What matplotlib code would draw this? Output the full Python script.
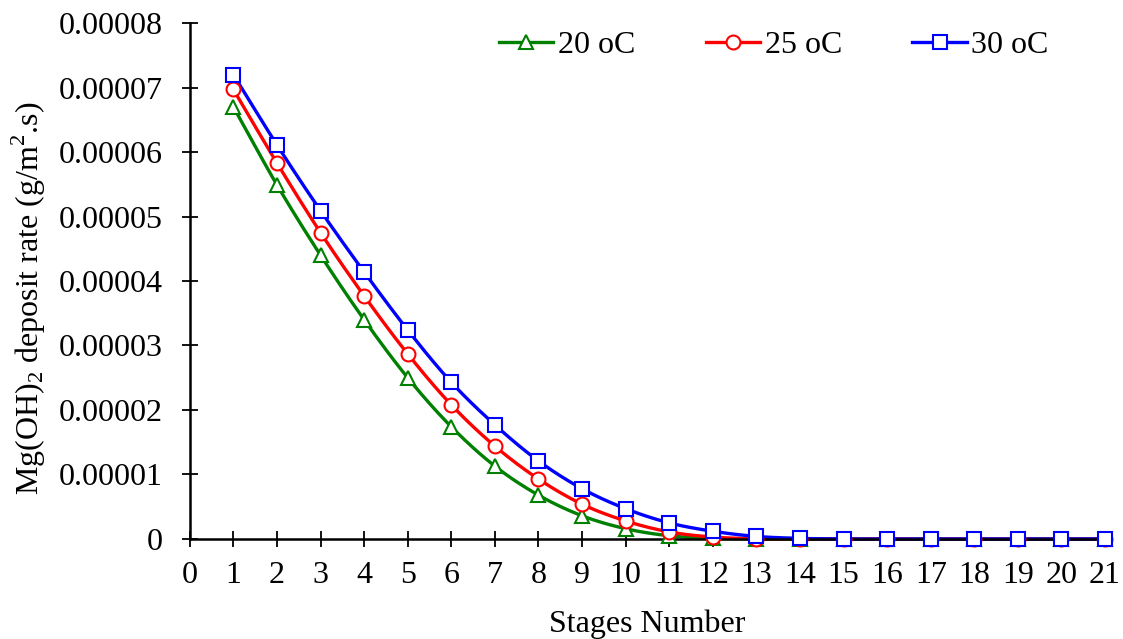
import numpy as np
import matplotlib
matplotlib.use("Agg")
import matplotlib.pyplot as plt

# data
stages = np.arange(1, 22)
rate_20 = [6.70, 5.49, 4.40, 3.40, 2.50, 1.74, 1.13, 0.68, 0.36, 0.16, 0.05, 0.01,
           0, 0, 0, 0, 0, 0, 0, 0, 0]
rate_25 = [6.97, 5.83, 4.75, 3.77, 2.87, 2.08, 1.44, 0.93, 0.54, 0.28, 0.11, 0.03,
           0.005, 0, 0, 0, 0, 0, 0, 0, 0]
rate_30 = [7.20, 6.11, 5.09, 4.14, 3.24, 2.43, 1.77, 1.21, 0.78, 0.47, 0.25, 0.12,
           0.04, 0.01, 0, 0, 0, 0, 0, 0, 0]
labels = ["20 oC", "25 oC", "30 oC"]
colors = ["green", "red", "blue"]
markers = ["^", "o", "s"]

plt.rcParams['font.family'] = ['Liberation Serif', 'DejaVu Serif']
plt.rcParams['mathtext.fontset'] = 'custom'
plt.rcParams['mathtext.rm'] = 'Liberation Serif'
fs = 23


def smooth(x, y, n=20):
    # Catmull-Rom through the points, like Excel's smoothed line
    x = np.asarray(x, float)
    y = np.asarray(y, float)
    px = np.concatenate([[2 * x[0] - x[1]], x, [2 * x[-1] - x[-2]]])
    py = np.concatenate([[2 * y[0] - y[1]], y, [2 * y[-1] - y[-2]]])
    xs, ys = [], []
    t = np.linspace(0, 1, n, endpoint=False)
    for i in range(1, len(px) - 2):
        for p, out in ((px, xs), (py, ys)):
            p0, p1, p2, p3 = p[i - 1], p[i], p[i + 1], p[i + 2]
            out.extend(0.5 * ((2 * p1) + (-p0 + p2) * t
                              + (2 * p0 - 5 * p1 + 4 * p2 - p3) * t ** 2
                              + (-p0 + 3 * p1 - 3 * p2 + p3) * t ** 3))
    xs.append(x[-1])
    ys.append(y[-1])
    return np.array(xs), np.array(ys)


fig = plt.figure(figsize=(11.23, 6.39), dpi=100)
ax = fig.add_axes([0.169, 0.1565, 0.815, 0.8075])

for vals, lab, c, m in zip([rate_20, rate_25, rate_30], labels, colors, markers):
    v = np.array(vals) * 1e-5
    sx, sy = smooth(stages, v)
    ax.plot(sx, sy, color=c, lw=2.4, zorder=2, clip_on=False)
    ax.plot(stages, v, linestyle='none', marker=m, ms=10, mfc='white',
            mec=c, mew=1.5, zorder=3, clip_on=False)
    ax.plot([], [], color=c, lw=2.4, marker=m, ms=10, mfc='white', mec=c,
            mew=1.5, label=lab)

ax.set_xlim(0, 21)
ax.set_ylim(0, 0.00008)
ax.set_xticks(range(0, 22))
ax.set_yticks(np.arange(0, 9) * 1e-5)
ax.set_yticklabels(["0"] + ["%.5f" % (i * 1e-5) for i in range(1, 9)])

for s in ['top', 'right']:
    ax.spines[s].set_visible(False)
for s in ['left', 'bottom']:
    ax.spines[s].set_linewidth(1.8)
ax.tick_params(direction='inout', length=11.5, width=1.3, labelsize=fs)
ax.tick_params(axis='y', pad=14)
ax.tick_params(axis='x', pad=10)

ax.set_xlabel("Stages Number", fontsize=fs, labelpad=14)
fig.text(29 / 1123, 1 - 298 / 639, r"Mg(OH)$_2$ deposit rate (g/m$^2$.s)",
         fontsize=fs, rotation=90, ha='center', va='center')

ax.legend(loc='upper left', bbox_to_anchor=(0.3377, 0.985), ncol=3,
          frameon=False, fontsize=fs, borderpad=0, borderaxespad=0,
          handlelength=1.7, handletextpad=0.15, columnspacing=2.2)

fig.savefig("out.png", dpi=100)
